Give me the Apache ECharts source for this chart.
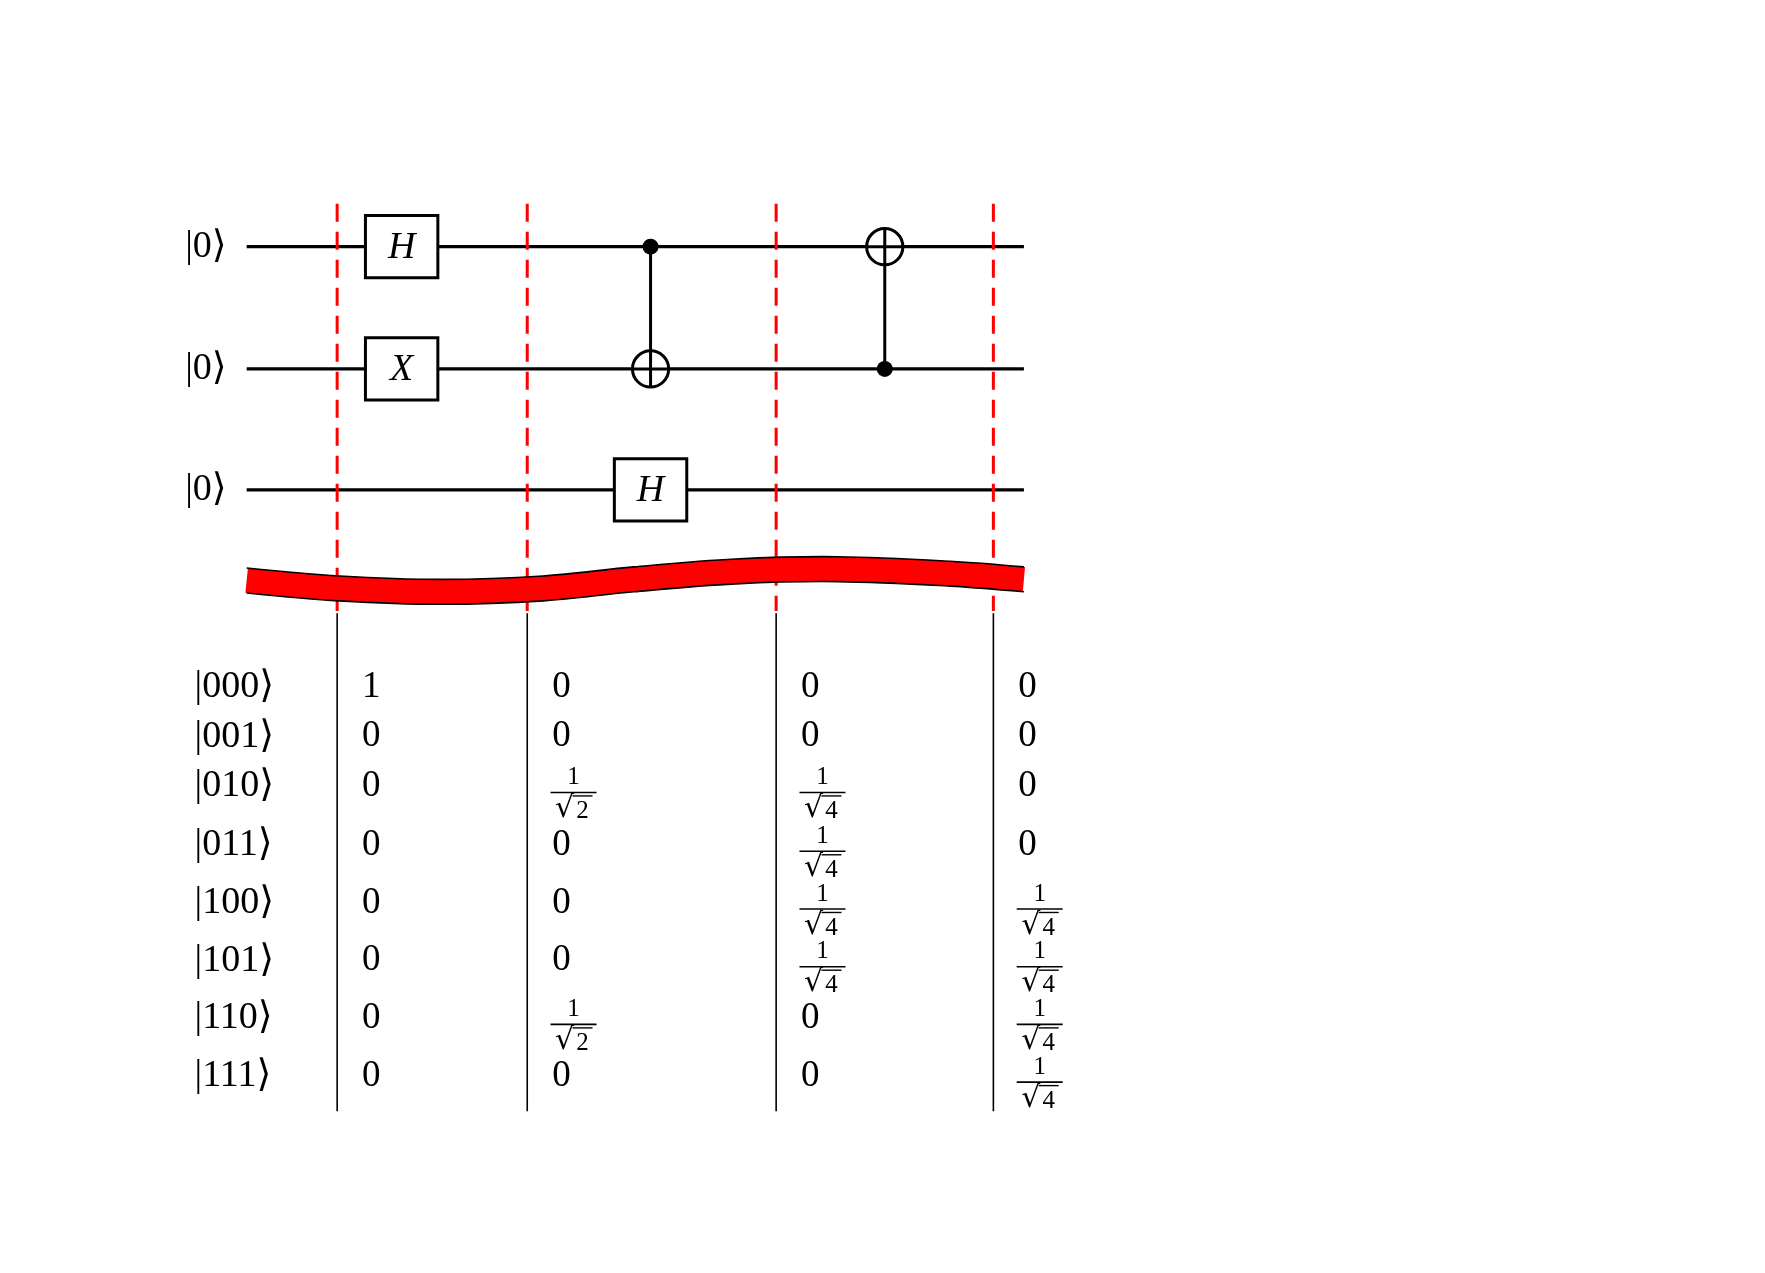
<!DOCTYPE html>
<html><head><meta charset="utf-8">
<script src="https://cdn.jsdelivr.net/npm/echarts@6/dist/echarts.min.js"></script>
<style>html,body{margin:0;padding:0;background:#fff}#c{width:1765px;height:1273px}</style>
</head><body><div id="c"></div>
<script>
// logical diagram coordinates (reference units)
const wireY = [218, 326, 433];
const wireStartX = 218, wireEndX = 905;
const sliceX = [298, 466, 686, 878];
const gates = [ {x:355,q:0,label:'H'}, {x:355,q:1,label:'X'}, {x:575,q:2,label:'H'} ];
const cnots = [ {x:575,ctrl:0,targ:1}, {x:782,ctrl:1,targ:0} ];
const bandCenter = [[218,513],[300,520],[390,523],[480,520],[560,512],[650,505],[740,503],[840,507],[905,512]];
const bandHalf = 11;
const basisLabels = ['|000⟩','|001⟩','|010⟩','|011⟩','|100⟩','|101⟩','|110⟩','|111⟩'];
const rowY = [607, 651, 695, 747, 798, 849, 900, 951];
const amp0 = ['1','0','0','0','0','0','0','0'];
const amp1 = ['0','0','1/√2','0','0','0','1/√2','0'];
const amp2 = ['0','0','1/√4','1/√4','1/√4','1/√4','0','0'];
const amp3 = ['0','0','0','0','1/√4','1/√4','1/√4','1/√4'];
const amps = [amp0, amp1, amp2, amp3];

const FONT = '"Liberation Serif","DejaVu Serif",serif';
const chart = echarts.init(document.getElementById('c'));
const S = 1765/1560;

function fracGroup(x, cy, den){
  const cx = x+26*S;
  return {type:'group', children:[
    {type:'text', style:{x:cx, y:cy-15, text:'1', font:'25px '+FONT, fill:'#000', align:'center', verticalAlign:'middle'}},
    {type:'line', shape:{x1:cx-23, y1:cy, x2:cx+23, y2:cy}, style:{stroke:'#000', lineWidth:1.6}},
    {type:'text', style:{x:cx-9, y:cy+17, text:'√', font:'30px "DejaVu Sans",sans-serif', fill:'#000', align:'center', verticalAlign:'middle'}},
    {type:'line', shape:{x1:cx-1, y1:cy+3.5, x2:cx+19, y2:cy+3.5}, style:{stroke:'#000', lineWidth:1.4}},
    {type:'text', style:{x:cx+9, y:cy+19, text:den, font:'25px '+FONT, fill:'#000', align:'center', verticalAlign:'middle'}}
  ]};
}

const series = [];
wireY.forEach(y => series.push({type:'line', data:[[wireStartX,y],[wireEndX,y]], symbol:'none', lineStyle:{color:'#000', width:3.2}, z:1, silent:true}));
sliceX.forEach(x => {
  series.push({type:'line', data:[[x,180],[x,540]], symbol:'none', lineStyle:{color:'#ff0000', width:3, type:[18,10]}, z:2});
  series.push({type:'line', data:[[x,542],[x,982]], symbol:'none', lineStyle:{color:'#000', width:1.6}, z:2});
});
// band
series.push({type:'custom', coordinateSystem:'cartesian2d', data:[0], z:5, renderItem:(p,api)=>{
  const mid = bandCenter.map(d=>api.coord(d));
  const top = bandCenter.map(d=>api.coord([d[0],d[1]-bandHalf]));
  const bot = bandCenter.map(d=>api.coord([d[0],d[1]+bandHalf]));
  const w = api.coord([0,2*bandHalf])[1]-api.coord([0,0])[1];
  return {type:'group', children:[
    {type:'polyline', shape:{points:mid, smooth:0.35}, style:{stroke:'#ff0000', lineWidth:w, lineCap:'butt', fill:null}},
    {type:'polyline', shape:{points:top, smooth:0.35}, style:{stroke:'#000', lineWidth:1.6, fill:null}},
    {type:'polyline', shape:{points:bot, smooth:0.35}, style:{stroke:'#000', lineWidth:1.6, fill:null}}
  ]};
}});
series.push({type:'custom', coordinateSystem:'cartesian2d', data:gates.map(g=>[g.x,wireY[g.q]]), z:6, renderItem:(p,api)=>{
  const c = api.coord([api.value(0),api.value(1)]);
  const w=64*S, h=55*S;
  return {type:'group', children:[
    {type:'rect', shape:{x:c[0]-w/2,y:c[1]-h/2,width:w,height:h}, style:{fill:'#fff', stroke:'#000', lineWidth:3}},
    {type:'text', style:{x:c[0], y:c[1]+1, text:gates[p.dataIndex].label, font:'italic 38px '+FONT, fill:'#000', align:'center', verticalAlign:'middle'}}
  ]};
}});
series.push({type:'custom', coordinateSystem:'cartesian2d', data:cnots.map(g=>[g.x,wireY[g.ctrl],wireY[g.targ]]), z:6, renderItem:(p,api)=>{
  const c = api.coord([api.value(0),api.value(1)]);
  const t = api.coord([api.value(0),api.value(2)]);
  const r = 16*S;
  const dir = t[1]>c[1]?1:-1;
  return {type:'group', children:[
    {type:'line', shape:{x1:c[0],y1:c[1],x2:t[0],y2:t[1]+dir*r}, style:{stroke:'#000', lineWidth:3}},
    {type:'circle', shape:{cx:c[0],cy:c[1],r:8}, style:{fill:'#000'}},
    {type:'circle', shape:{cx:t[0],cy:t[1],r:r}, style:{fill:'#fff', stroke:'#000', lineWidth:3}},
    {type:'line', shape:{x1:t[0]-r,y1:t[1],x2:t[0]+r,y2:t[1]}, style:{stroke:'#000', lineWidth:3}},
    {type:'line', shape:{x1:t[0],y1:t[1]-r,x2:t[0],y2:t[1]+r}, style:{stroke:'#000', lineWidth:3}}
  ]};
}});
series.push({type:'custom', coordinateSystem:'cartesian2d', data:wireY.map(y=>[182,y]), renderItem:(p,api)=>{
  const c = api.coord([api.value(0),api.value(1)]);
  return {type:'text', style:{x:c[0], y:c[1], text:'|0⟩', font:'38px '+FONT, fill:'#000', align:'center', verticalAlign:'middle'}};
}});
series.push({type:'custom', coordinateSystem:'cartesian2d', data:rowY.map(y=>[172,y]), renderItem:(p,api)=>{
  const c = api.coord([api.value(0),api.value(1)]);
  return {type:'text', style:{x:c[0], y:c[1], text:basisLabels[p.dataIndex], font:'38px '+FONT, fill:'#000', align:'left', verticalAlign:'middle'}};
}});
amps.forEach((col,ci)=>{
  series.push({type:'custom', coordinateSystem:'cartesian2d', data:rowY.map(y=>[sliceX[ci]+22,y]), renderItem:(p,api)=>{
    const c = api.coord([api.value(0),api.value(1)]);
    const v = col[p.dataIndex];
    if (v.indexOf('/')>=0){ return fracGroup(c[0]-8, c[1]+6, v.slice(-1)); }
    return {type:'text', style:{x:c[0], y:c[1], text:v, font:'37px '+FONT, fill:'#000', align:'left', verticalAlign:'middle'}};
  }});
});

chart.setOption({
  animation:false,
  grid:{left:0,right:0,top:0,bottom:0},
  xAxis:{type:'value', min:0, max:1560, show:false},
  yAxis:{type:'value', min:0, max:1125, inverse:true, show:false},
  series
});
</script></body></html>
